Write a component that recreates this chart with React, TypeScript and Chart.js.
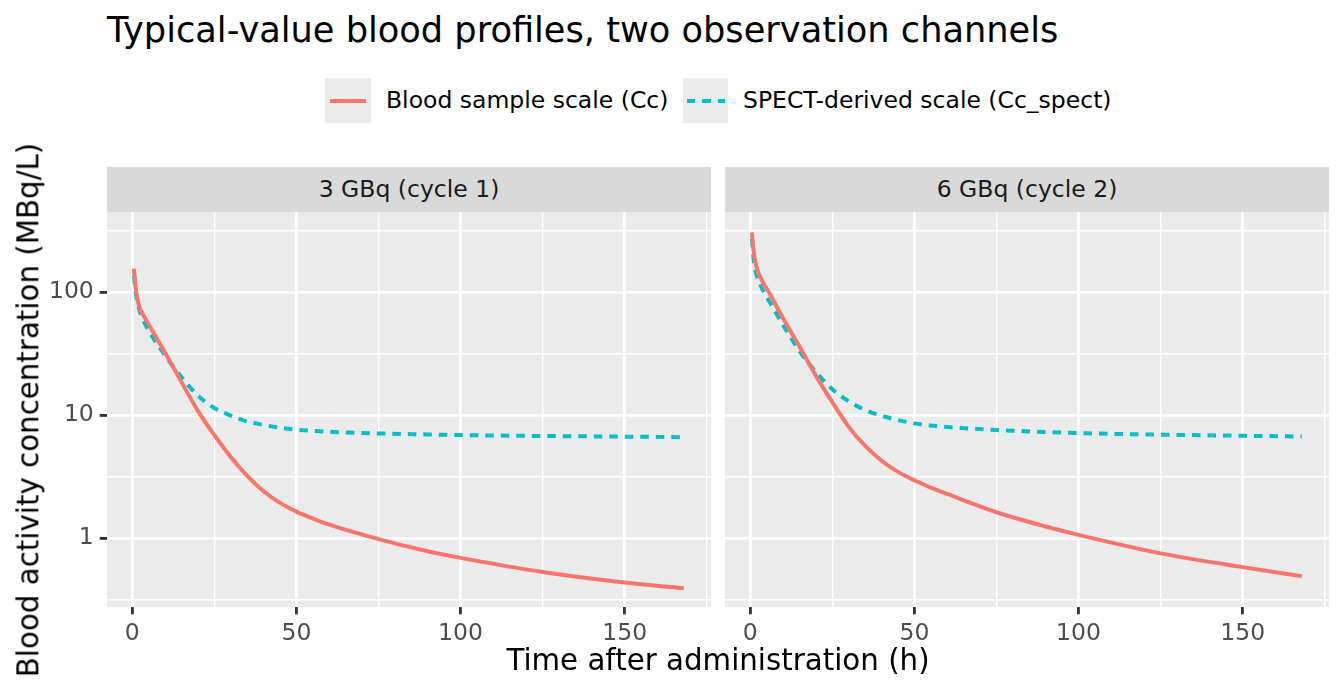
import React, { useEffect, useRef } from "react";
import { Chart, registerables } from "chart.js";

Chart.register(...registerables);

// ---------- data ----------
const times = [0.5, 1, 2, 3.5, 6, 10, 15, 20, 25, 30, 35, 40, 45, 50, 55, 60, 75, 90, 100, 125, 150, 168];

const cycle1Cc = [155, 110, 78, 64, 49, 32, 18.5, 10.8, 6.85, 4.55, 3.2, 2.4, 1.93, 1.64, 1.44, 1.285, 0.98, 0.78, 0.69, 0.53, 0.435, 0.39];
const cycle1Spect = [135, 100, 74, 58, 44, 30.5, 20.3, 14.4, 11.4, 9.9, 8.85, 8.3, 7.9, 7.6, 7.42, 7.3, 7.08, 6.95, 6.87, 6.75, 6.67, 6.6];

const cycle2Cc = [305, 215, 155, 125, 96, 61, 36, 20.8, 12.7, 8.0, 5.6, 4.25, 3.45, 2.95, 2.57, 2.28, 1.62, 1.24, 1.06, 0.75, 0.58, 0.49];
const cycle2Spect = [270, 185, 135, 108, 82, 54, 33, 22.3, 16.2, 12.9, 11.0, 9.85, 9.1, 8.55, 8.2, 7.98, 7.55, 7.27, 7.12, 6.92, 6.78, 6.68];

const panelLabels = ["3 GBq (cycle 1)", "6 GBq (cycle 2)"];
const seriesLabels = ["Blood sample scale (Cc)", "SPECT-derived scale (Cc_spect)"];

const xMajorTicks = [0, 50, 100, 150];
const xMinorTicks = [25, 75, 125, 175];
const yMajorTicks = [1, 10, 100];
const yMinorTicks = [0.3162, 3.162, 31.62, 316.2];

const titleText = "Typical-value blood profiles, two observation channels";
const xTitle = "Time after administration (h)";
const yTitle = "Blood activity concentration (MBq/L)";

// ---------- styles ----------
const FONT = "'DejaVu Sans', sans-serif";
const RED = "#F8766D";
const CYAN = "#00BFC4";
const TICK_FONT = 23.5;
const AXIS_TITLE_FONT = 29.3;
const MAJOR_W = 2.84;
const MINOR_W = 1.42;

const panelBg = {
  id: "panelBg",
  beforeDraw(chart: any) {
    const { ctx, chartArea } = chart;
    if (!chartArea) return;
    ctx.save();
    ctx.fillStyle = "#EBEBEB";
    ctx.fillRect(chartArea.left, chartArea.top, chartArea.right - chartArea.left, chartArea.bottom - chartArea.top);
    ctx.restore();
  },
};

function makeChart(canvas: HTMLCanvasElement, cc: number[], spect: number[], first: boolean) {
  const isMajorX = (v: number) => xMajorTicks.includes(v);
  const isMajorY = (v: number) => yMajorTicks.includes(v);
  return new Chart(canvas, {
    type: "line",
    data: {
      datasets: [
        {
          label: seriesLabels[0],
          data: times.map((t, i) => ({ x: t, y: cc[i] })),
          borderColor: RED,
          borderWidth: 4,
          pointRadius: 0,
          fill: false,
          cubicInterpolationMode: "monotone",
          borderCapStyle: "butt",
        },
        {
          label: seriesLabels[1],
          data: times.map((t, i) => ({ x: t, y: spect[i] })),
          borderColor: CYAN,
          borderWidth: 4,
          borderDash: [8.5, 7],
          pointRadius: 0,
          fill: false,
          cubicInterpolationMode: "monotone",
          borderCapStyle: "butt",
        },
      ],
    },
    options: {
      animation: false,
      responsive: false,
      maintainAspectRatio: false,
      layout: {
        padding: first ? { left: 0, right: 9, top: 12, bottom: 0 } : { left: 5, right: 15, top: 12, bottom: 0 },
      },
      plugins: {
        legend: { display: false },
        tooltip: { enabled: false },
        title: { display: false },
      },
      scales: {
        x: {
          type: "linear",
          min: -7.7,
          max: 176.3,
          bounds: "data",
          afterBuildTicks: (s: any) => {
            s.ticks = [...xMajorTicks, ...xMinorTicks].sort((a, b) => a - b).map((v) => ({ value: v }));
          },
          afterFit: (s: any) => {
            s.height = 84;
            s.paddingLeft = 0;
            s.paddingRight = 0;
          },
          ticks: {
            autoSkip: false,
            maxRotation: 0,
            minRotation: 0,
            padding: 5.9,
            color: "#4D4D4D",
            font: { family: FONT, size: TICK_FONT },
            callback: (v: any) => (isMajorX(Number(v)) ? String(v) : ""),
          },
          grid: {
            color: "#FFFFFF",
            lineWidth: (c: any) => (c.tick && isMajorX(c.tick.value) ? MAJOR_W : MINOR_W),
            tickColor: (c: any) => (c.tick && isMajorX(c.tick.value) ? "#333333" : "rgba(0,0,0,0)"),
            tickLength: 7.3,
            tickWidth: MAJOR_W,
          },
          border: { display: false },
        },
        y: {
          type: "logarithmic",
          min: 0.275,
          max: 446.7,
          bounds: "data",
          afterBuildTicks: (s: any) => {
            s.ticks = [...yMajorTicks, ...yMinorTicks].sort((a, b) => a - b).map((v) => ({ value: v }));
          },
          afterFit: (s: any) => {
            s.width = first ? 107 : 0;
            s.paddingTop = 0;
            s.paddingBottom = 0;
          },
          ticks: {
            display: first,
            autoSkip: false,
            padding: 5.9,
            color: "#4D4D4D",
            font: { family: FONT, size: TICK_FONT },
            callback: (v: any) => (isMajorY(Number(v)) ? String(v) : ""),
          },
          title: { display: false },
          grid: {
            color: "#FFFFFF",
            lineWidth: (c: any) => (c.tick && isMajorY(c.tick.value) ? MAJOR_W : MINOR_W),
            tickColor: (c: any) => (first && c.tick && isMajorY(c.tick.value) ? "#333333" : "rgba(0,0,0,0)"),
            drawTicks: first,
            tickLength: 7.3,
            tickWidth: MAJOR_W,
          },
          border: { display: false },
        },
      },
    },
    plugins: [panelBg],
  } as any);
}

const abs = (o: React.CSSProperties): React.CSSProperties => ({ position: "absolute", ...o });

export default function App() {
  const leftRef = useRef<HTMLCanvasElement>(null);
  const rightRef = useRef<HTMLCanvasElement>(null);

  useEffect(() => {
    Chart.defaults.font.family = FONT;
    const c1 = makeChart(leftRef.current!, cycle1Cc, cycle1Spect, true);
    const c2 = makeChart(rightRef.current!, cycle2Cc, cycle2Spect, false);
    return () => {
      c1.destroy();
      c2.destroy();
    };
  }, []);

  const textBase: React.CSSProperties = {
    fontFamily: FONT,
    whiteSpace: "nowrap",
    lineHeight: 1,
  };

  const strip = (left: number): React.CSSProperties =>
    abs({
      ...textBase,
      left,
      top: 167,
      width: 604,
      height: 45,
      background: "#D9D9D9",
      display: "flex",
      alignItems: "center",
      justifyContent: "center",
      fontSize: TICK_FONT,
      color: "#1A1A1A",
    });

  return (
    <div
      style={{
        position: "fixed",
        left: 0,
        top: 0,
        width: 1344,
        height: 691,
        background: "#FFFFFF",
        overflow: "hidden",
        fontFamily: FONT,
      }}
    >
      <canvas ref={leftRef} width={720} height={491} style={abs({ left: 0, top: 200, width: 720, height: 491 })} />
      <canvas ref={rightRef} width={624} height={491} style={abs({ left: 720, top: 200, width: 624, height: 491 })} />

      {/* title */}
      <div style={abs({ ...textBase, left: 107, top: 30, transform: "translateY(-50%)", fontSize: 35.2, color: "#000" })}>
        {titleText}
      </div>

      {/* legend */}
      <div style={abs({ left: 325, top: 78, width: 46, height: 45, background: "#EBEBEB" })}>
        <div style={abs({ left: 5, top: 20.5, width: 36, height: 4, background: RED })} />
      </div>
      <div style={abs({ ...textBase, left: 386, top: 101, transform: "translateY(-50%)", fontSize: TICK_FONT, color: "#000" })}>
        {seriesLabels[0]}
      </div>
      <div style={abs({ left: 683, top: 78, width: 45, height: 45, background: "#EBEBEB" })}>
        <div
          style={abs({
            left: 4,
            top: 20.5,
            width: 38,
            height: 4,
            background: `repeating-linear-gradient(90deg, ${CYAN} 0px, ${CYAN} 8.5px, transparent 8.5px, transparent 15.5px)`,
          })}
        />
      </div>
      <div style={abs({ ...textBase, left: 743, top: 101, transform: "translateY(-50%)", fontSize: TICK_FONT, color: "#000" })}>
        {seriesLabels[1]}
      </div>

      {/* strips */}
      <div style={strip(107)}>{panelLabels[0]}</div>
      <div style={strip(725)}>{panelLabels[1]}</div>

      {/* y title */}
      <div
        style={abs({
          ...textBase,
          left: 29,
          top: 409.5,
          transform: "translate(-50%, -50%) rotate(-90deg)",
          fontSize: AXIS_TITLE_FONT,
          color: "#000",
        })}
      >
        {yTitle}
      </div>

      {/* x title */}
      <div
        style={abs({
          ...textBase,
          left: 718,
          top: 661,
          transform: "translate(-50%, -50%)",
          fontSize: AXIS_TITLE_FONT,
          color: "#000",
        })}
      >
        {xTitle}
      </div>
    </div>
  );
}
